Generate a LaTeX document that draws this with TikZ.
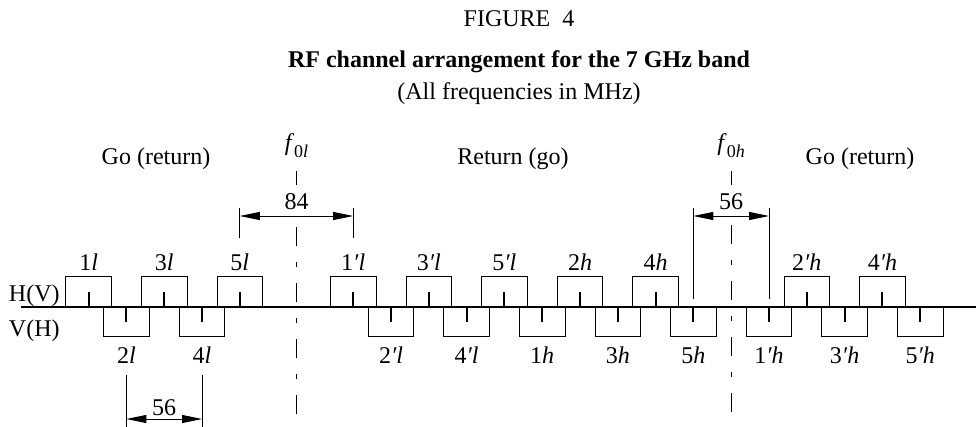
\documentclass[tikz,border=0pt]{standalone}
\usepackage{fontspec}
\setmainfont{Liberation Serif}
\usetikzlibrary{arrows.meta,calc}
\newcommand{\fsub}[1]{\raisebox{-3.5pt}{\fontsize{9}{10}\selectfont #1}}
\begin{document}
\begin{tikzpicture}[x=0.5pt,y=-0.5pt,
  font=\fontsize{12}{14}\selectfont,
  chan/.style={draw,line width=0.5pt,minimum width=22.8pt,minimum height=15pt,inner sep=0pt,outer sep=0pt},
  tickln/.style={line width=1pt},
  baseln/.style={line width=0.95pt},
  dimln/.style={line width=0.45pt},
  dimarr/.style={dimln,{Triangle[length=10pt,width=4pt]}-{Triangle[length=10pt,width=4pt]}},
  centreln/.style={line width=0.45pt,dash pattern=on 9.5pt off 8pt on 2.5pt off 8pt},
  lab/.style={anchor=base,inner sep=0pt},
]
\useasboundingbox (0,0) rectangle (978,427);

% titles
\node[lab] (fig) at (519,27) {FIGURE~ 4};
\node[lab,font=\fontsize{12}{14}\selectfont\bfseries] (title) at (519,68) {RF channel arrangement for the 7 GHz band};
\node[lab] (sub) at (519,100) {(All frequencies in MHz)};

% direction labels
\node[lab] (go1) at (156,165) {Go (return)};
\node[lab] (ret) at (513,165) {Return (go)};
\node[lab] (go2) at (860,165) {Go (return)};

% polarisation labels
\node[lab,anchor=base east] (hv) at (60,301) {H(V)};
\node[lab,anchor=base east] (vh) at (60,336) {V(H)};

% channels above the line
\foreach \n/\m/\t in {l1/-154/{1\textit{l}}, l3/-98/{3\textit{l}}, l5/-42/{5\textit{l}},
  lp1/42/{1\textit{′l}}, lp3/98/{3\textit{′l}}, lp5/154/{5\textit{′l}},
  h2/210/{2\textit{h}}, h4/266/{4\textit{h}}, hp2/378/{2\textit{′h}}, hp4/434/{4\textit{′h}}}{
  \node[chan] (\n) at ({296.5+\m*1.35},291.7) {};
  \node[lab] (\n-lab) at ([yshift=3.35pt]\n.north) {\t};
}
% channels below the line
\foreach \n/\m/\t in {l2/-126/{2\textit{l}}, l4/-70/{4\textit{l}},
  lp2/70/{2\textit{′l}}, lp4/126/{4\textit{′l}},
  h1/182/{1\textit{h}}, h3/238/{3\textit{h}}, h5/294/{5\textit{h}},
  hp1/350/{1\textit{′h}}, hp3/406/{3\textit{′h}}, hp5/462/{5\textit{′h}}}{
  \node[chan] (\n) at ({296.5+\m*1.35},321.7) {};
  \node[lab] (\n-lab) at ([yshift=-13.15pt]\n.south) {\t};
}

% base line
\coordinate (bl) at (21,306.7);
\coordinate (br) at (976,306.7);
\draw[baseln] (bl) -- (br);

% ticks
\foreach \n in {l1,l3,l5,lp1,lp3,lp5,h2,h4,hp2,hp4}{
  \draw[tickln] (\n.south) -- (\n.center);
}
\foreach \n in {l2,l4,lp2,lp4,h1,h3,h5,hp1,hp3,hp5}{
  \draw[tickln] (\n.north) -- (\n.center);
}

% centre frequencies
\node[lab] (f0l) at (296.5,151) {\textit{f}\fsub{0\textit{l}}};
\node[lab] (f0h) at (731.2,151) {\textit{f}\fsub{0\textit{h}}};
\coordinate (f0lt) at (296.5,171);
\coordinate (f0lb) at (296.5,185);
\coordinate (f0lc) at (296.5,227);
\coordinate (f0le) at (296.5,427);
\coordinate (f0ht) at (731.2,171);
\coordinate (f0hb) at (731.2,185);
\coordinate (f0hc) at (731.2,225);
\coordinate (f0he) at (731.2,427);
\draw[dimln] (f0lt) -- (f0lb);
\draw[dimln] (f0ht) -- (f0hb);
\draw[centreln] (f0lc) -- (f0le);
\draw[centreln] (f0hc) -- (f0he);

% 84 MHz dimension
\coordinate (d84at) at (239.8,208);
\coordinate (d84ab) at (239.8,238);
\coordinate (d84bt) at (353.2,208);
\coordinate (d84bb) at (353.2,238);
\coordinate (d84l) at (239.8,216);
\coordinate (d84r) at (353.2,216);
\draw[dimln] (d84at) -- (d84ab);
\draw[dimln] (d84bt) -- (d84bb);
\draw[dimarr] (d84l) -- (d84r);
\node[lab] (t84) at (296.5,209) {84};

% 56 MHz dimension (top right)
\coordinate (d56at) at (693.4,208);
\coordinate (d56ab) at (693.4,299);
\coordinate (d56bt) at (769.0,208);
\coordinate (d56bb) at (769.0,299);
\coordinate (d56l) at (693.4,216);
\coordinate (d56r) at (769.0,216);
\draw[dimln] (d56at) -- (d56ab);
\draw[dimln] (d56bt) -- (d56bb);
\draw[dimarr] (d56l) -- (d56r);
\node[lab] (t56a) at (731.2,209) {56};

% 56 MHz dimension (bottom left)
\coordinate (e56at) at (126.4,375);
\coordinate (e56ab) at (126.4,427);
\coordinate (e56bt) at (202.0,375);
\coordinate (e56bb) at (202.0,427);
\coordinate (e56l) at (126.4,419);
\coordinate (e56r) at (202.0,419);
\draw[dimln] (e56at) -- (e56ab);
\draw[dimln] (e56bt) -- (e56bb);
\draw[dimarr] (e56l) -- (e56r);
\node[lab] (t56b) at (164.2,415) {56};
\end{tikzpicture}
\end{document}
